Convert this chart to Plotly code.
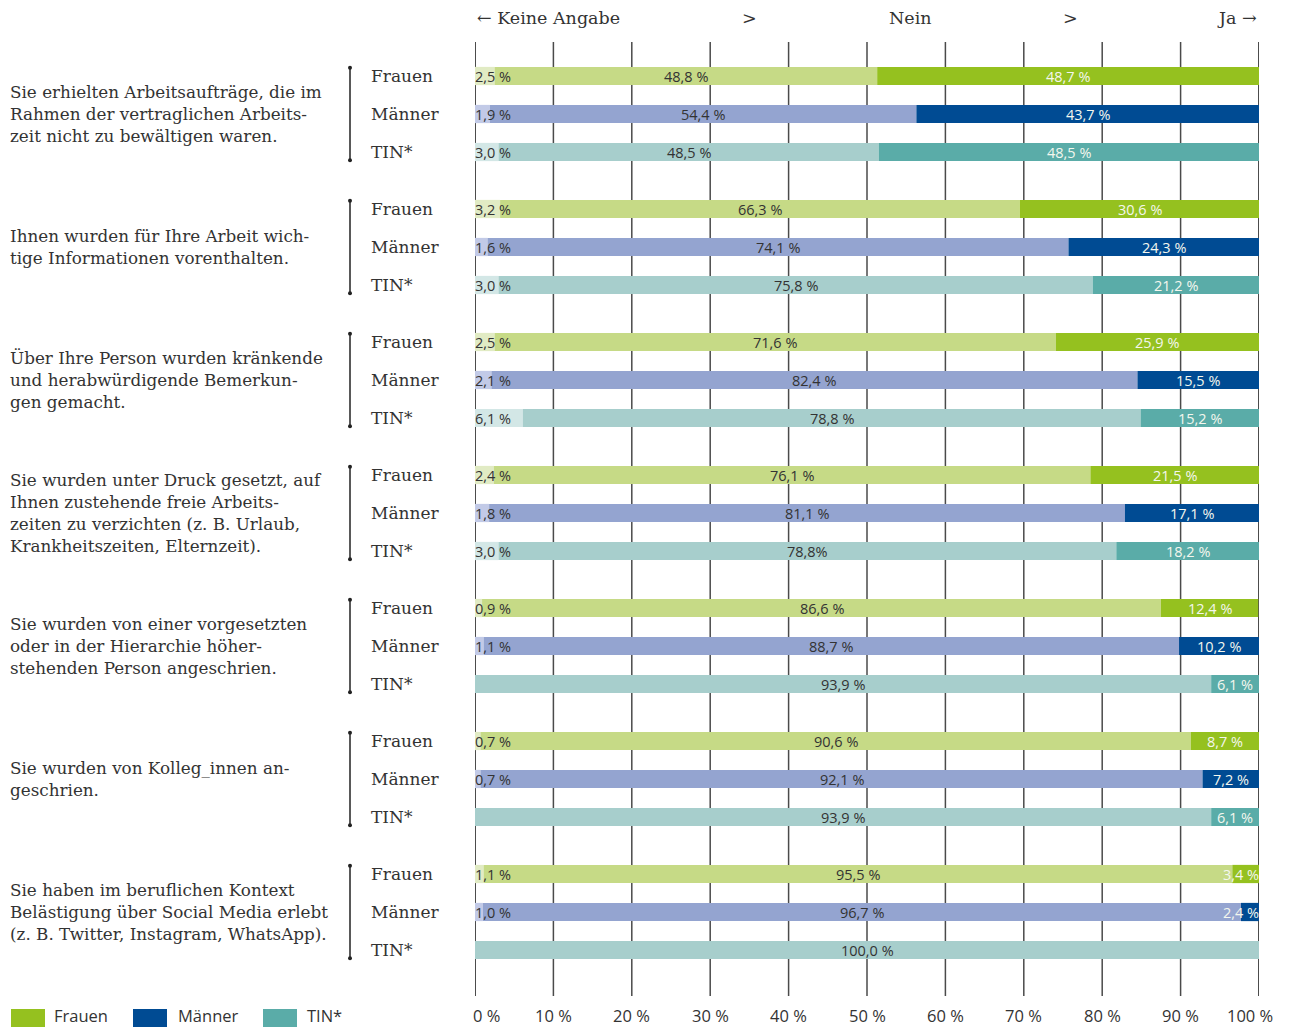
import plotly.graph_objects as go

# ---------------- data ----------------
questions = [
    "Sie erhielten Arbeitsaufträge, die im<br>Rahmen der vertraglichen Arbeits-<br>zeit nicht zu bewältigen waren.",
    "Ihnen wurden für Ihre Arbeit wich-<br>tige Informationen vorenthalten.",
    "Über Ihre Person wurden kränkende<br>und herabwürdigende Bemerkun-<br>gen gemacht.",
    "Sie wurden unter Druck gesetzt, auf<br>Ihnen zustehende freie Arbeits-<br>zeiten zu verzichten (z. B. Urlaub,<br>Krankheitszeiten, Elternzeit).",
    "Sie wurden von einer vorgesetzten<br>oder in der Hierarchie höher-<br>stehenden Person angeschrien.",
    "Sie wurden von Kolleg_innen an-<br>geschrien.",
    "Sie haben im beruflichen Kontext<br>Belästigung über Social Media erlebt<br>(z. B. Twitter, Instagram, WhatsApp).",
]
genders = ["Frauen", "Männer", "TIN*"]

keine_angabe = {
    "Frauen": [2.5, 3.2, 2.5, 2.4, 0.9, 0.7, 1.1],
    "Männer": [1.9, 1.6, 2.1, 1.8, 1.1, 0.7, 1.0],
    "TIN*":   [3.0, 3.0, 6.1, 3.0, 0.0, 0.0, 0.0],
}
nein = {
    "Frauen": [48.8, 66.3, 71.6, 76.1, 86.6, 90.6, 95.5],
    "Männer": [54.4, 74.1, 82.4, 81.1, 88.7, 92.1, 96.7],
    "TIN*":   [48.5, 75.8, 78.8, 78.8, 93.9, 93.9, 100.0],
}
ja = {
    "Frauen": [48.7, 30.6, 25.9, 21.5, 12.4, 8.7, 3.4],
    "Männer": [43.7, 24.3, 15.5, 17.1, 10.2, 7.2, 2.4],
    "TIN*":   [48.5, 21.2, 15.2, 18.2, 6.1, 6.1, 0.0],
}
x_ticks = [0, 10, 20, 30, 40, 50, 60, 70, 80, 90, 100]
x_ticklabels = ["0 %", "10 %", "20 %", "30 %", "40 %", "50 %", "60 %", "70 %", "80 %", "90 %", "100 %"]
header_labels = ["← Keine Angabe", ">", "Nein", ">", "Ja →"]

# ---------------- styles ----------------
colors = {
    "Frauen": {"ka": "#e1ebc4", "nein": "#c6da86", "ja": "#95c11f"},
    "Männer": {"ka": "#c2cae7", "nein": "#94a4d0", "ja": "#004b93"},
    "TIN*":   {"ka": "#d3e7e6", "nein": "#a7cecc", "ja": "#5aaca8"},
}
SERIF = "DejaVu Serif, Liberation Serif, serif"
SANS = "Open Sans, Noto Sans, sans-serif"
TXT = "#333333"

W, H = 1289, 1027
# plot area in pixel coords
PX0, PX1, PY0, PY1 = 475, 1259, 42, 996
L, T = PX0, PY0
R = W - PX1
B = H - PY1
PW = PX1 - PX0
PH = PY1 - PY0

def px_x(px):
    return (px - PX0) / PW

def px_y(py):
    return 1 - (py - PY0) / PH

GROUP_STEP = 3.5
ROW_PX = 38
def row(g, j):
    return g * GROUP_STEP + j

def fmt(v, nospace=False):
    s = f"{v:.1f}".replace(".", ",")
    return s + ("%" if nospace else " %")

fig = go.Figure()
annotations = []
shapes = []
LBL = 14.5

for j, gname in enumerate(genders):
    ys = [row(g, j) for g in range(len(questions))]
    ka = keine_angabe[gname]
    ne = nein[gname]
    jv = ja[gname]
    for key, vals, base in [
        ("ka", ka, [0] * len(ka)),
        ("nein", ne, ka),
        ("ja", jv, [a + b for a, b in zip(ka, ne)]),
    ]:
        fig.add_trace(go.Bar(
            y=ys, x=vals, base=base, orientation="h",
            marker=dict(color=colors[gname][key], line=dict(width=0)),
            width=0.48, showlegend=False, hoverinfo="skip",
        ))
    for g in range(len(questions)):
        y = ys[g]
        if ka[g] > 0:
            annotations.append(dict(x=0, y=y, xref="x", yref="y", text=fmt(ka[g]),
                                    xanchor="left", xshift=-2, showarrow=False,
                                    font=dict(family=SANS, size=LBL, color=TXT)))
        annotations.append(dict(x=ka[g] + ne[g] / 2, y=y, xref="x", yref="y",
                                text=fmt(ne[g], nospace=(g == 3 and gname == "TIN*")),
                                showarrow=False,
                                font=dict(family=SANS, size=LBL, color=TXT)))
        if jv[g] > 0:
            if jv[g] < 5:
                annotations.append(dict(x=100, y=y, xref="x", yref="y", text=fmt(jv[g]),
                                        xanchor="right", xshift=2, showarrow=False,
                                        font=dict(family=SANS, size=LBL, color="#f4f7ee")))
            else:
                annotations.append(dict(x=ka[g] + ne[g] + jv[g] / 2, y=y, xref="x", yref="y",
                                        text=fmt(jv[g]), showarrow=False,
                                        font=dict(family=SANS, size=LBL, color="#f4f7ee")))

# gridlines
for t in x_ticks:
    shapes.append(dict(type="line", xref="x", yref="paper", x0=t, x1=t, y0=0, y1=1,
                       line=dict(color="#111111" if t in (0, 100) else "#4a4a4a",
                                 width=1.5), layer="below"))

# x tick labels
for i, (t, lab) in enumerate(zip(x_ticks, x_ticklabels)):
    shift = 11 if i == 0 else (-9 if i == len(x_ticks) - 1 else 0)
    annotations.append(dict(x=t, y=px_y(1016), xref="x", yref="paper", text=lab,
                            xshift=shift, yanchor="middle", showarrow=False,
                            font=dict(family=SANS, size=16.5, color=TXT)))

# left labels
for g, q in enumerate(questions):
    annotations.append(dict(x=px_x(8), y=row(g, 1), xref="paper", yref="y", text=q,
                            xanchor="left", yanchor="middle", align="left", showarrow=False,
                            font=dict(family=SERIF, size=16.8, color=TXT)))
    for j, gname in enumerate(genders):
        annotations.append(dict(x=px_x(369), y=row(g, j), xref="paper", yref="y", text=gname,
                                xanchor="left", yanchor="middle", showarrow=False,
                                font=dict(family=SERIF, size=17, color=TXT)))
    y0 = row(g, 0) - 0.22
    y1 = row(g, 2) + 0.22
    bx = px_x(350)
    shapes.append(dict(type="line", xref="paper", yref="y", x0=bx, x1=bx, y0=y0, y1=y1,
                       line=dict(color="#222222", width=1.5)))
    for yy in (y0, y1):
        shapes.append(dict(type="circle", xref="paper", yref="y", xsizemode="pixel",
                           ysizemode="pixel", xanchor=bx, yanchor=yy,
                           x0=-2, x1=2, y0=-2, y1=2,
                           fillcolor="#222222", line=dict(width=0)))

# header
hy = px_y(18)
hx = [(0, "left"), (35, "center"), (55.5, "center"), (76, "center"), (100, "right")]
for (xv, anc), lab in zip(hx, header_labels):
    annotations.append(dict(x=xv, y=hy, xref="x", yref="paper", text=lab, xanchor=anc,
                            yanchor="middle", showarrow=False,
                            font=dict(family=SERIF, size=17.5, color=TXT)))

# legend
leg = [("Frauen", 11, 52), ("Männer", 133, 176), ("TIN*", 263, 305)]
for gname, sx, tx in leg:
    shapes.append(dict(type="rect", xref="paper", yref="paper", x0=px_x(sx), x1=px_x(sx + 34),
                       y0=px_y(1027), y1=px_y(1009), fillcolor=colors[gname]["ja"],
                       line=dict(width=0)))
    annotations.append(dict(x=px_x(tx), y=px_y(1016), xref="paper", yref="paper", text=gname,
                            xanchor="left", yanchor="middle", showarrow=False,
                            font=dict(family=SANS, size=16.5, color=TXT)))

y_top = (PY0 - 76) / ROW_PX
y_bot = (PY1 - 76) / ROW_PX

fig.update_layout(
    width=W, height=H, barmode="overlay",
    margin=dict(l=L, r=R, t=T, b=B),
    plot_bgcolor="white", paper_bgcolor="white",
    xaxis=dict(range=[0, 100], showgrid=False, zeroline=False, showline=False, ticks="",
               showticklabels=False, fixedrange=True),
    yaxis=dict(range=[y_bot, y_top], showgrid=False, zeroline=False, showticklabels=False,
               ticks="", fixedrange=True),
    annotations=annotations, shapes=shapes,
)

fig.write_html(
    "out.html",
    config={"displayModeBar": False},
    post_script="document.body.style.margin='0';document.body.style.overflow='hidden';",
)
